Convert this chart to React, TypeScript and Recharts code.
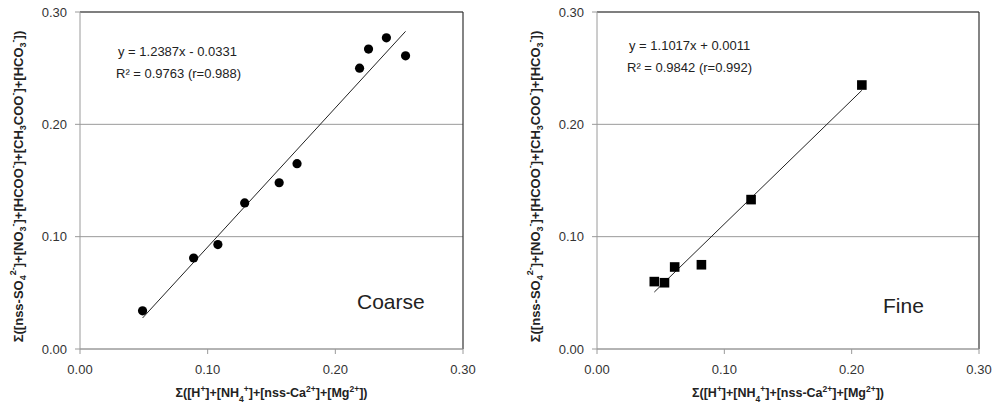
import {
  ScatterChart,
  Scatter,
  XAxis,
  YAxis,
  CartesianGrid,
  ReferenceLine,
  Customized,
} from 'recharts'

const coarseX = [0.049, 0.089, 0.108, 0.129, 0.156, 0.170, 0.219, 0.226, 0.240, 0.255]
const coarseY = [0.034, 0.081, 0.093, 0.130, 0.148, 0.165, 0.250, 0.267, 0.277, 0.261]
const fineX = [0.045, 0.053, 0.061, 0.082, 0.121, 0.208]
const fineY = [0.060, 0.059, 0.073, 0.075, 0.133, 0.235]

const axisTicks = [0, 0.1, 0.2, 0.3]

const coarseFit = { slope: 1.2387, intercept: -0.0331 }
const fineFit = { slope: 1.1017, intercept: 0.0011 }

const coarseText = ['y = 1.2387x - 0.0331', 'R² = 0.9763 (r=0.988)']
const fineText = ['y = 1.1017x + 0.0011', 'R² = 0.9842 (r=0.992)']

const FONT = '"Liberation Sans", Arial, sans-serif'
const GRID = '#9a9a9a'

const toPoints = (xs: number[], ys: number[]) => xs.map((x, i) => ({ x, y: ys[i] }))

const fitSegment = (xs: number[], fit: { slope: number; intercept: number }) => {
  const x0 = Math.min(...xs)
  const x1 = Math.max(...xs)
  return [
    { x: x0, y: fit.slope * x0 + fit.intercept },
    { x: x1, y: fit.slope * x1 + fit.intercept },
  ]
}

const sup = (s: string, fs = 8.5) => (
  <tspan baselineShift="super" fontSize={fs}>
    {s}
  </tspan>
)
const sub = (s: string, fs = 8.5) => (
  <tspan baselineShift="sub" fontSize={fs}>
    {s}
  </tspan>
)

function XLabel({ viewBox }: any) {
  const { x, y, width } = viewBox
  return (
    <text
      x={x + width / 2}
      y={y + 48}
      textAnchor="middle"
      fontFamily={FONT}
      fontWeight="bold"
      fontSize={12.5}
      fill="#222"
    >
      Σ([H{sup('+')}]+[NH{sub('4')}{sup('+')}]+[nss-Ca{sup('2+')}]+[Mg{sup('2+')}])
    </text>
  )
}

function YLabel({ viewBox }: any) {
  const { x, y, height } = viewBox
  const cx = x - 12
  const cy = y + height / 2 + 6
  return (
    <text
      x={cx}
      y={cy}
      transform={`rotate(-90 ${cx} ${cy})`}
      textAnchor="middle"
      dominantBaseline="central"
      fontFamily={FONT}
      fontWeight="bold"
      fontSize={13}
      fill="#222"
    >
      Σ([nss-SO{sub('4', 9)}{sup('2-', 9)}]+[NO{sub('3', 9)}{sup('-', 9)}]+[HCOO{sup('-', 9)}]+[CH{sub('3', 9)}COO{sup('-', 9)}]+[HCO{sub('3', 9)}{sup('-', 9)}])
    </text>
  )
}

const Dot = (props: any) => <circle cx={props.cx} cy={props.cy} r={4.6} fill="#000" />
const Square = (props: any) => (
  <rect x={props.cx - 4.8} y={props.cy - 4.8} width={9.6} height={9.6} fill="#000" />
)

interface PanelProps {
  xs: number[]
  ys: number[]
  fit: { slope: number; intercept: number }
  lines: string[]
  name: string
  shape: any
  width: number
  margin: { top: number; right: number; bottom: number; left: number }
  textPos: { x: number; y1: number; y2: number; nx: number; ny: number }
}

function Panel({ xs, ys, fit, lines, name, shape, width, margin, textPos }: PanelProps) {
  const data = toPoints(xs, ys)
  return (
    <ScatterChart width={width} height={407} margin={margin}>
      <CartesianGrid vertical={false} stroke={GRID} strokeWidth={1} />
      <XAxis
        type="number"
        dataKey="x"
        domain={[0, 0.3]}
        ticks={axisTicks}
        tickFormatter={(v: number) => v.toFixed(2)}
        height={40}
        tickSize={5}
        tickMargin={11}
        stroke={GRID}
        tick={{ fill: '#333', fontSize: 13, fontFamily: FONT }}
        label={<XLabel />}
      />
      <YAxis
        type="number"
        dataKey="y"
        domain={[0, 0.3]}
        ticks={axisTicks}
        tickFormatter={(v: number) => v.toFixed(2)}
        width={50}
        tickSize={5}
        tickMargin={8}
        stroke={GRID}
        tick={{ fill: '#333', fontSize: 13, fontFamily: FONT }}
        label={<YLabel />}
      />
      <ReferenceLine y={0.3} stroke="#333" strokeWidth={1.2} />
      <ReferenceLine x={0.3} stroke="#333" strokeWidth={1.2} />
      <ReferenceLine segment={fitSegment(xs, fit)} stroke="#222" strokeWidth={1} />
      <Scatter data={data} shape={shape} isAnimationActive={false} />
      <Customized
        component={() => (
          <g fontFamily={FONT} fill="#222">
            <text x={textPos.x} y={textPos.y1} fontSize={13}>
              {lines[0]}
            </text>
            <text x={textPos.x - 2} y={textPos.y2} fontSize={13}>
              {lines[1]}
            </text>
            <text x={textPos.nx} y={textPos.ny} fontSize={21}>
              {name}
            </text>
          </g>
        )}
      />
    </ScatterChart>
  )
}

export default function App() {
  return (
    <div style={{ position: 'absolute', left: 0, top: 0, width: 994, height: 407, background: '#fff' }}>
      <div style={{ position: 'absolute', left: 0, top: 0 }}>
        <Panel
          xs={coarseX}
          ys={coarseY}
          fit={coarseFit}
          lines={coarseText}
          name="Coarse"
          shape={Dot}
          width={490}
          margin={{ top: 12, right: 27, bottom: 18, left: 30 }}
          textPos={{ x: 118, y1: 56, y2: 78, nx: 357, ny: 309 }}
        />
      </div>
      <div style={{ position: 'absolute', left: 497, top: 0 }}>
        <Panel
          xs={fineX}
          ys={fineY}
          fit={fineFit}
          lines={fineText}
          name="Fine"
          shape={Square}
          width={497}
          margin={{ top: 12, right: 15, bottom: 18, left: 50 }}
          textPos={{ x: 132, y1: 50, y2: 72, nx: 386, ny: 313 }}
        />
      </div>
    </div>
  )
}
